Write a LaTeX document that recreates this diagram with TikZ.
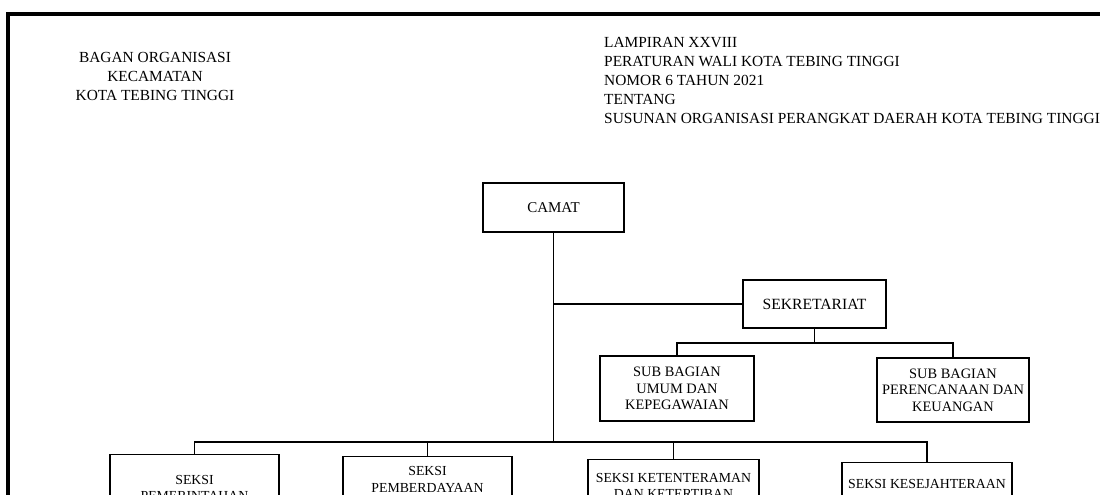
\documentclass[tikz,border=0pt]{standalone}
\usepackage{fontspec}
\setmainfont{Liberation Serif}
\begin{document}
\begin{tikzpicture}[x=1pt, y=-1pt,
    every node/.style={font=\fontsize{15.4}{19}\selectfont},
    kotak/.style={draw, line width=1.3pt, align=center, inner sep=0pt, font=\fontsize{14.4}{16.5}\selectfont},
    seksi/.style={kotak, anchor=north, font=\fontsize{13.8}{16.5}\selectfont},
    garis/.style={line width=1.1pt}]
    \useasboundingbox (0,0) rectangle (1100,495);
    \clip (0,0) rectangle (1100,495);
    \draw[line width=4pt] (8,495) -- (8,14) -- (1100,14);
    \node[align=center] (judul) at (155,76) {BAGAN ORGANISASI\\KECAMATAN\\KOTA TEBING TINGGI};
    \node[align=left, anchor=west, inner sep=0pt] (lampiran) at (604,80) {LAMPIRAN XXVIII\\PERATURAN WALI KOTA TEBING TINGGI\\NOMOR 6 TAHUN 2021\\TENTANG\\SUSUNAN ORGANISASI PERANGKAT DAERAH KOTA TEBING TINGGI};
    \node[kotak, font=\fontsize{15}{17}\selectfont, minimum width=141pt, minimum height=49pt] (camat) at (553.5,207.5) {CAMAT};
    \node[kotak, font=\fontsize{15.6}{17}\selectfont, minimum width=143pt, minimum height=48pt] (sekr) at (814.5,304) {SEKRETARIAT};
    \node[kotak, minimum width=154pt, minimum height=65pt] (umum) at (677,388.5) {SUB BAGIAN\\UMUM DAN\\KEPEGAWAIAN};
    \node[kotak, minimum width=152pt, minimum height=64pt] (keu) at (953,390) {SUB BAGIAN\\PERENCANAAN DAN\\KEUANGAN};
    \node[seksi, minimum width=169pt, minimum height=67pt] (pem) at (194.5,454) {SEKSI\\PEMERINTAHAN};
    \node[seksi, minimum width=169pt, minimum height=46pt] (pmd) at (427.5,456) {SEKSI\\PEMBERDAYAAN};
    \node[seksi, minimum width=171pt, minimum height=53pt] (trantib) at (673.5,459) {SEKSI KETENTERAMAN\\DAN KETERTIBAN};
    \node[seksi, minimum width=170pt, minimum height=60pt] (kesos) at (927,462) {SEKSI KESEJAHTERAAN\\SOSIAL};
    \coordinate (bus) at (553.5,442);
    \coordinate (subbus) at (814.5,343);
    \draw[garis] (camat) -- (bus);
    \draw[garis] (camat |- sekr) -- (sekr);
    \draw[garis] (sekr) -- (subbus);
    \draw[garis] (umum.north) |- (subbus) -| (keu.north);
    \draw[garis] (pem.north) |- (bus) -| (kesos.north);
    \draw[garis] (pmd) -- (pmd |- bus);
    \draw[garis] (trantib) -- (trantib |- bus);
\end{tikzpicture}
\end{document}
